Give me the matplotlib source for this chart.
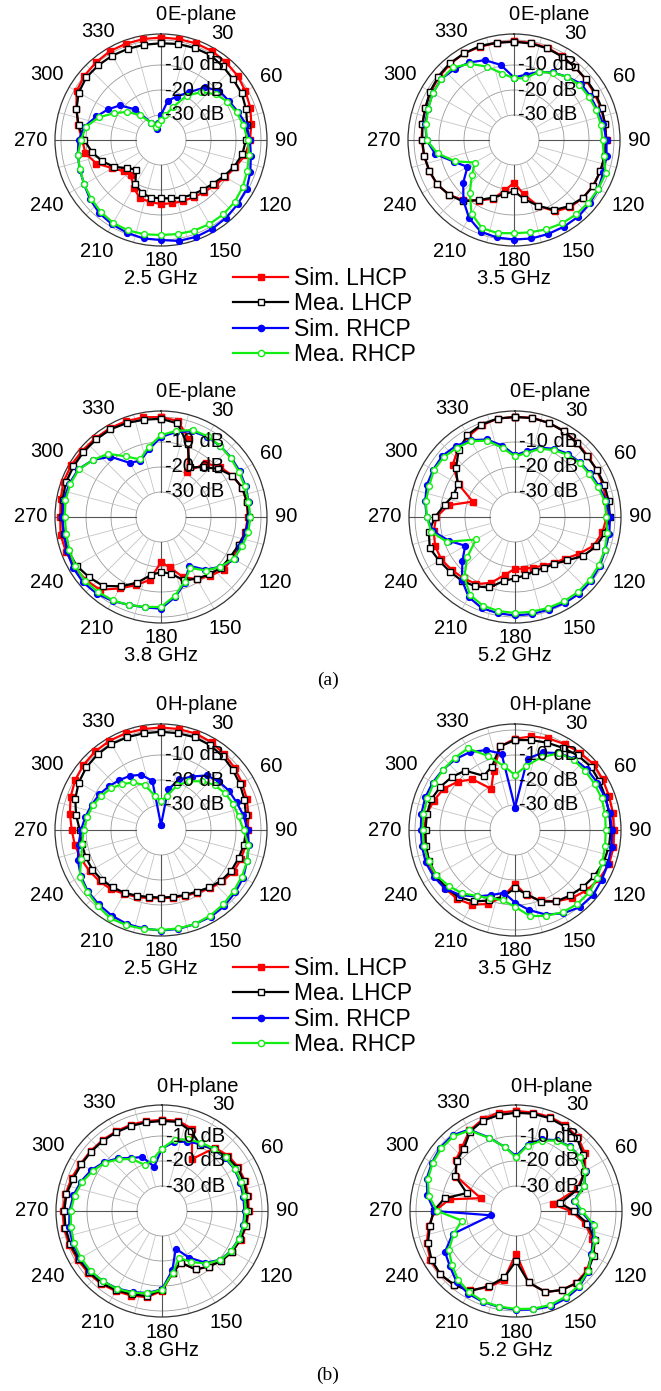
import numpy as np
import matplotlib
matplotlib.use("Agg")
import matplotlib.pyplot as plt
from matplotlib.lines import Line2D

plt.rcParams['font.family'] = ['Liberation Sans', 'DejaVu Sans']

# angle grid of the digitised patterns (deg), one value every 10 deg
angles = list(range(0, 360, 10))

# ---- E-plane, 2.5 GHz
e25_sim_l = [1, 1, 1.1, 1, 0.5, 0, -1, -2, -3.3, -4.4, -5.8, -8.3, -10.3, -11.8, -13, -13.6, -14, -14.3,
             -14.4, -14.8, -15.3, -18, -21.5, -20.5, -17.5, -12.5, -9.3, -8.5, -6.3, -4, -1, 0, 0.5, 1, 1, 1]
e25_mea_l = [-1.3, -1, -0.8, -0.7, -1.5, -2.3, -2.7, -3.8, -5, -6, -7, -8.8, -11, -12.8, -14, -14.8, -15.5, -16.3,
             -16.7, -16.6, -17.5, -19.5, -24.5, -22.5, -18.5, -15, -12, -9.3, -6.5, -4, -2, -1, -1, -1, -1.2, -1.3]
e25_sim_r = [-30, -24, -21.5, -18, -12.5, -9.5, -8.7, -7.2, -5.3, -4.4, -3.5, -2, -0.5, 0, 0.6, 1, 1.2, 1,
             0, 0, -0.5, -1, -1.7, -3, -4.5, -5.4, -6.2, -7, -9, -12.5, -15.5, -18.5, -24, -32, -35.5, -33]
e25_mea_r = [-32, -30, -26, -19.5, -15, -11.5, -9.3, -7.8, -6.5, -5.3, -4.3, -3.3, -2.3, -1.5, -1.2, -1.2, -1.4, -1.8,
             -2, -1.7, -1.5, -1.7, -2.5, -3.5, -4.5, -5.5, -6.2, -8, -9.5, -13.5, -18.5, -22.5, -27, -32, -34.5, -33.5]

# ---- E-plane, 3.5 GHz
e35_sim_l = [-0.5, -0.5, -0.8, -1.3, -2, -2.5, -2.8, -3, -3, -3, -3, -3.2, -3.5, -4, -5, -7, -12, -18,
             -23, -19.5, -15, -12, -8.5, -6, -4.5, -3.8, -3.5, -3, -2.8, -2.2, -1.5, -0.8, -0.3, 0, -0.3, -0.5]
e35_mea_l = [-0.7, -0.8, -1, -1.5, -2, -2.3, -2.4, -2.7, -3, -3.2, -3.2, -3.3, -3.3, -4, -5.5, -7.7, -12, -16,
             -19.5, -18, -15.5, -12.3, -8, -6, -4.5, -4, -3.5, -3.3, -2.8, -2.3, -1.2, -0.5, 0, 0, 0, -0.5]
e35_sim_r = [-15, -13.5, -11, -8.8, -7, -5, -4.8, -4.5, -3.7, -3, -2.4, -2, -1, -0.5, 0, 0, 0, 0,
             -0.2, -0.4, -1, -4, -8.5, -13.5, -18.5, -14.5, -8, -5, -4, -3.3, -2.5, -2, -3, -4.2, -6, -9.5]
e35_mea_r = [-15.3, -15, -11, -9, -7, -5.8, -5.4, -5, -4.7, -4.6, -3.5, -1, -1, -1.1, -1.2, -1.5, -2, -2.5,
             -2.7, -2.2, -2.5, -6, -12.5, -18, -22, -15, -9, -5, -4.2, -3.5, -2.5, -2.1, -2.1, -4.8, -8.8, -13]

# ---- E-plane, 3.8 GHz
e38_sim_l = [0, -1, -7, -19, -12, -9, -7, -5.5, -5.2, -5.3, -5.7, -7, -7, -7.3, -9.3, -11.3, -14.5, -19.5,
             -22, -14.5, -11, -7, -2, -0.8, 0, 0.5, 0.8, 0.3, 0.8, 1.5, 1.5, 1.2, 1, 1, 0.8, 0.5]
e38_mea_l = [-0.7, -2, -9, -17, -14, -10, -7, -5.5, -5, -5, -5.5, -7, -8, -8.5, -10, -11.5, -13, -17,
             -18, -16.4, -12, -8, -4, -2.5, -1, -0.5, -0.5, -0.5, 0, 0.5, 0.5, 0.5, 0.5, 0.5, 0, -0.5]
e38_sim_r = [-8, -5.5, -3.5, -3, -3, -3.2, -3.6, -4, -4.4, -4.7, -5.5, -6.4, -6, -9, -12.5, -17.5, -12, -7.5,
             -3.3, -3.3, -2.6, -1.2, 0, 0.7, 0.6, 0, -0.5, -0.5, -0.5, -1, -1.8, -4.5, -8.5, -15, -16, -12.5]
e38_mea_r = [-7.3, -5, -3, -2.7, -3, -3.5, -4, -4.3, -4.5, -4.2, -4.6, -5.5, -6.5, -9, -12, -16.5, -12.5, -8,
             -4, -3.5, -2.5, -1.5, -0.8, -0.3, -0.5, -1, -1.5, -1.5, -1.2, -1.4, -2, -4.5, -7, -12, -15.5, -11.5]

# ---- E-plane, 5.2 GHz
e52_sim_l = [0, 0.3, 0, -0.5, -1.2, -2, -2.3, -2.5, -3, -3.3, -4.5, -6.5, -10.5, -14, -16, -17.5, -18.5, -19,
             -19.3, -16.5, -12, -9, -8, -7, -6, -6, -7, -8.5, -13, -22, -14, -7.5, -4.5, -2.7, -1, 0]
e52_mea_l = [0, 0.2, 0, -0.5, -1.5, -2.3, -2.2, -2, -2, -2, -3.5, -5.5, -8.7, -13, -15.5, -16.5, -17, -16.3,
             -15.5, -14, -10, -8, -6.8, -6, -5, -3.7, -5, -8, -11.5, -14, -13.5, -9.2, -5, -2, -0.7, 0]
e52_sim_r = [-15.3, -13.3, -10.5, -8.5, -7, -6, -5.2, -4.2, -3, -2, -1.7, -1.6, -0.8, -0.3, 0, -0.3, -0.6, -0.6,
             -0.6, -0.9, -1.2, -3, -7, -12.5, -17, -12, -6.8, -4.7, -3.5, -2.5, -2.2, -2, -3, -4.5, -7, -11]
e52_mea_r = [-15.8, -14, -11, -9, -7.5, -6.3, -5.7, -4.7, -3.5, -3.5, -2.5, -1.8, -1.3, -1, -0.8, -1, -1.3, -1.5,
             -1.6, -1.8, -2.3, -4, -8.5, -15, -22, -11, -6, -4.7, -3.8, -3.5, -2.5, -2.8, -3.8, -5, -7.5, -12]

# ---- H-plane, 2.5 GHz
h25_sim_l = [1, 1, 1, 0.5, -0.5, -1.5, -2.5, -3.5, -4.5, -5.3, -5.5, -6, -6.5, -8, -9.5, -11, -12, -12.5,
             -12.7, -12.3, -11.5, -10.5, -9, -8, -7, -6, -5, -4.3, -3, -1.5, -0.3, 0.5, 1, 1.2, 1.2, 1]
h25_mea_l = [-0.7, -0.7, -0.5, -0.8, -1.5, -2.5, -3.5, -4.5, -5.5, -6, -6.3, -7, -7.5, -8.5, -10, -11.5, -12.3, -12.8,
             -13, -12.8, -12, -11, -10, -9, -8.3, -8, -7.8, -7.5, -5.5, -3.5, -2, -1, -0.5, -0.3, -0.5, -0.7]
h25_sim_r = [-38, -23.5, -18.5, -15.3, -11.5, -9.8, -8.6, -7.8, -6.5, -5.3, -4.3, -3.4, -2, -1.2, -0.5, 0, 0, 0.2,
             0.2, 0, 0, -0.5, -1.2, -1.8, -3, -4.6, -6.5, -8, -9.3, -10.5, -11.5, -12.8, -14, -15, -16.5, -20]
h25_mea_r = [-28.5, -26, -21, -17.5, -14.5, -12, -10.5, -9.3, -8.5, -7, -4.5, -3.3, -2.7, -2, -1.2, -0.5, 0, 0,
             0, 0.2, 0.5, 0.7, -0.5, -1.5, -2.5, -6, -8, -9, -10, -11, -12.5, -14, -16, -18, -21, -26]

# ---- H-plane, 3.5 GHz
h35_sim_l = [-3.5, -2, -1, -0.3, 0.4, 1, 0.5, 0, -0.3, -0.4, 0, 0, -1, -2.5, -4.5, -7, -10, -13.5,
             -18.5, -13, -8.5, -5.5, -4, -3.6, -3.2, -3, -3.2, -3.6, -4, -5.5, -7, -10, -13.5, -21, -15, -6]
h35_mea_l = [-4, -3.5, -2.8, -2, -1, -0.5, -1, -1.5, -1.7, -1.7, -1.8, -2.3, -3.3, -4.5, -5.8, -7, -9.5, -14,
             -16.7, -13, -10, -7, -5, -4, -3.6, -3.5, -3.8, -4.2, -4.2, -4.3, -5.5, -7, -9, -15, -13, -6]
h35_sim_r = [-31, -11, -7, -4.5, -3, -2.3, -2, -1.7, -1.5, -1.2, -0.8, -0.5, 0, 0.7, 0.3, -1.5, -4, -7.5,
             -11, -14.5, -12.3, -9.3, -6, -3.5, -2.5, -2, -2.2, -2.3, -2, -1.8, -2, -2.4, -3, -4, -6, -9]
h35_mea_r = [-18, -14, -9, -4.5, -3.5, -3.3, -3.2, -3.1, -3.4, -3.7, -3.4, -2.8, -2, -1.2, -1.3, -2, -3.5, -5,
             -9.3, -11.5, -11, -9.5, -7, -5.3, -3.7, -3.2, -3, -3, -2.8, -2.7, -2.5, -2.5, -2.4, -2.3, -8.5, -14]

# ---- H-plane, 3.8 GHz
h38_sim_l = [-3.5, -3.3, -5, -16, -7, -5.5, -4.8, -4.7, -5, -5.3, -5.7, -6.5, -7.5, -9, -11, -13, -18, -15,
             -8, -5, -4, -3, -2, -1.5, -1, -0.5, -0.3, -0.3, -0.8, -1.5, -2.3, -2.7, -3, -3.2, -3.3, -3.5]
h38_mea_l = [-4, -3.8, -6, -9.5, -7.7, -6.3, -5.2, -5.2, -5.5, -5.7, -6, -6.7, -7.5, -9, -11, -13, -18, -15,
             -8.5, -5.5, -4.5, -3.5, -2.3, -2, -1.5, -1, -0.8, -0.9, -1.2, -2.2, -2.7, -3, -3.3, -3.6, -3.8, -4]
h38_sim_r = [-15, -12, -10.5, -9, -7.8, -7, -6.5, -6.7, -7, -7, -7, -7.3, -8.1, -9.6, -13, -18.5, -24, -16,
             -8.7, -6.7, -5.5, -4.2, -3.3, -2.5, -2.2, -2, -2.3, -3, -4, -5.5, -7.3, -9.7, -12.5, -15.5, -17, -22]
h38_mea_r = [-15, -11, -9.5, -8.5, -7.5, -6.7, -6.3, -6.3, -6.5, -6.6, -6.8, -7.2, -8, -9.5, -12.5, -16.5, -20, -15,
             -8.5, -6.5, -5.3, -4, -3.3, -2.7, -2.5, -2.5, -3, -3.5, -4.5, -6, -8, -10, -13, -16, -20.5, -19]

# ---- H-plane, 5.2 GHz
h52_sim_l = [0, 0, 0, -0.5, -1.5, -4, -8, -14, -25, -18, -12, -7.5, -5, -3, -2.5, -3.5, -5.5, -11,
             -23, -12, -7.5, -3.5, -1.3, -0.5, -0.5, -2, -4.5, -7.5, -13, -25, -12.5, -8.5, -6.5, -2.8, -1, 0]
h52_mea_l = [-0.7, -0.5, -0.5, -1, -2, -5, -8.5, -13, -22, -17, -11, -6.5, -4.2, -2.5, -2.3, -3.5, -5.5, -11,
             -20, -13, -8, -3, -1.5, -0.5, -1, -2.5, -5, -7, -11, -19, -12, -9, -7.5, -3.3, -1.5, -1]
h52_sim_r = [-18, -13, -9.5, -7.3, -6.3, -6.5, -7.8, -11, -16.5, -14, -9, -7, -5.3, -2.3, -0.5, 0.3, 0.6, 0,
             -0.5, -1, -1.3, -1.8, -3, -5.5, -7.2, -13, -30, -7.3, -4, -2, -1.2, -0.5, -0.5, -2.4, -8.8, -14]
h52_mea_r = [-18.5, -13.5, -10, -7.5, -6.5, -6.5, -8, -11, -16, -13.5, -8.5, -6.5, -5, -2.5, -1, -0.3, 0, -0.3,
             -0.8, -1.2, -1.5, -2.5, -4, -6.5, -9, -13.5, -18, -8.5, -4.5, -2.5, -1.5, -1, -1, -2.8, -9, -14]

series_labels = ['Sim. LHCP', 'Mea. LHCP', 'Sim. RHCP', 'Mea. RHCP']
panels = [
    ('E-plane', '2.5 GHz', [e25_sim_l, e25_mea_l, e25_sim_r, e25_mea_r]),
    ('E-plane', '3.5 GHz', [e35_sim_l, e35_mea_l, e35_sim_r, e35_mea_r]),
    ('E-plane', '3.8 GHz', [e38_sim_l, e38_mea_l, e38_sim_r, e38_mea_r]),
    ('E-plane', '5.2 GHz', [e52_sim_l, e52_mea_l, e52_sim_r, e52_mea_r]),
    ('H-plane', '2.5 GHz', [h25_sim_l, h25_mea_l, h25_sim_r, h25_mea_r]),
    ('H-plane', '3.5 GHz', [h35_sim_l, h35_mea_l, h35_sim_r, h35_mea_r]),
    ('H-plane', '3.8 GHz', [h38_sim_l, h38_mea_l, h38_sim_r, h38_mea_r]),
    ('H-plane', '5.2 GHz', [h52_sim_l, h52_mea_l, h52_sim_r, h52_mea_r]),
]

# style of each curve: colour, marker, face colour
styles = [('#ff0000', 's', '#ff0000'),
          ('#000000', 's', 'white'),
          ('#0000ff', 'o', '#0000ff'),
          ('#11ee11', 'o', 'white')]

W, H = 661, 1391
centers = [(161, 140), (514, 140), (161, 517), (515, 517),
           (161, 830), (515, 830), (162, 1211), (516, 1211)]
R_PX = 106          # outer frame radius in pixels
RMIN, RMAX = -40, 2.4
PX_PER_DB = R_PX / (RMAX - RMIN)
FS = 14.5

fig = plt.figure(figsize=(W / 100, H / 100), dpi=100)


def px_to_db(r_px):
    return RMIN + r_px / PX_PER_DB


for (plane, freq, data), (cx, cy) in zip(panels, centers):
    ax = fig.add_axes([(cx - R_PX) / W, 1 - (cy + R_PX) / H, 2 * R_PX / W, 2 * R_PX / H],
                      projection='polar')
    ax.set_theta_zero_location('N')
    ax.set_theta_direction(-1)
    ax.set_ylim(RMIN, RMAX)
    ax.grid(False)
    ax.set_xticks([])
    ax.set_yticks([])
    ax.spines['polar'].set_linewidth(0.9)
    ax.spines['polar'].set_color('#333333')

    # grid: rings and spokes
    tt = np.linspace(0, 2 * np.pi, 361)
    for rr in [-30, -20, -10, 0]:
        ax.plot(tt, np.full_like(tt, rr), color='#9a9a9a', lw=0.6, zorder=1)
    for a in range(0, 360, 15):
        main = a % 90 == 0
        ax.plot([np.deg2rad(a)] * 2, [-30, RMAX], color='#555555' if main else '#c4c4c4',
                lw=0.8 if main else 0.6, zorder=1)

    th = np.deg2rad(angles + [360])
    for vals, lab, (col, mk, fc) in zip(data, series_labels, styles):
        ax.plot(th, vals + [vals[0]], color=col, lw=1.6, marker=mk, ms=4.2,
                mfc=fc, mec=col, mew=1.0, label=lab, zorder=3, clip_on=False)

    # angle labels
    for a in range(30, 360, 30):
        txt = str(a)
        s, c = abs(np.sin(np.deg2rad(a))), abs(np.cos(np.deg2rad(a)))
        rpx = 114 + 0.5 * (s * 11 * len(txt) + c * 14)
        if a in (30, 330):
            rpx -= 3
        ax.text(np.deg2rad(a), px_to_db(rpx), txt, ha='center', va='center', fontsize=FS)
    ax.text(0, px_to_db(125), '0', ha='center', va='center', fontsize=FS)
    ax.annotate(plane, xy=(0, px_to_db(125)), xytext=(6, 0), textcoords='offset pixels',
                ha='left', va='center', fontsize=FS, annotation_clip=False)
    for rr in [-10, -20, -30]:
        ax.annotate(f'{rr} dB', xy=(0, rr), xytext=(4, 0), textcoords='offset pixels',
                    ha='left', va='center', fontsize=FS, zorder=4, annotation_clip=False)
    ax.text(np.pi, px_to_db(139), freq, ha='center', va='center', fontsize=FS)

handles = [Line2D([], [], color=col, lw=1.6, marker=mk, ms=4.5, mfc=fc, mec=col, mew=1.0)
           for col, mk, fc in styles]
for top in (267, 957):
    fig.legend(handles, series_labels, loc='upper left', bbox_to_anchor=(233 / W, 1 - top / H),
               frameon=False, fontsize=16.5, borderpad=0, borderaxespad=0, handlelength=2.4,
               handletextpad=0.27, labelspacing=0.1)

fig.text(328 / W, 1 - 680 / H, '(a)', ha='center', va='center', fontsize=14,
         family=['Liberation Serif', 'DejaVu Serif'])
fig.text(328 / W, 1 - 1375 / H, '(b)', ha='center', va='center', fontsize=14,
         family=['Liberation Serif', 'DejaVu Serif'])

fig.savefig('out.png', dpi=100)
